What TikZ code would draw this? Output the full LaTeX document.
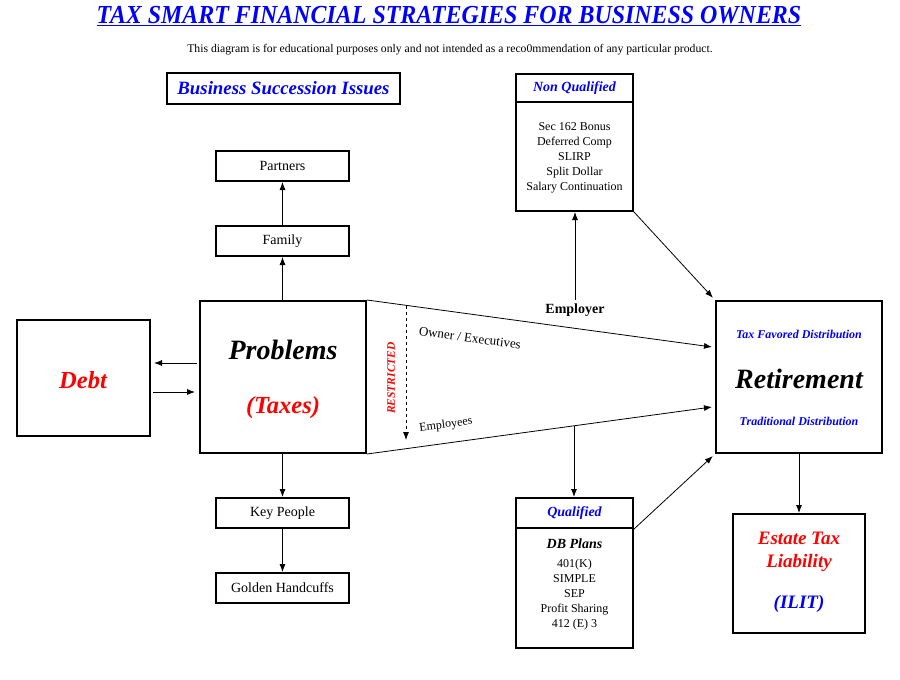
\documentclass[tikz,border=0pt]{standalone}
\usepackage{fontspec}
\setmainfont{Liberation Serif}
\usetikzlibrary{calc}
\usetikzlibrary{arrows.meta}

\newcommand{\fsz}[2]{\fontsize{#1}{#2}\selectfont}

\begin{document}
\begin{tikzpicture}[x=1pt,y=-1pt,
    box/.style={draw,line width=2pt,inner sep=0pt},
    arr/.style={-{Latex[length=8pt,width=6pt]},line width=0.8pt},
    bi/.style={font=\bfseries\itshape}]
                \useasboundingbox[fill=white] (0,0) rectangle (900,680);
                % heading
                \node[blue,font=\bfseries\itshape\fsz{26}{28}] (title) at (449,16) {\scalebox{0.92}[1]{\underline{TAX SMART FINANCIAL STRATEGIES FOR BUSINESS OWNERS}}};
                \node[font=\fsz{11.7}{13}] (note) at (450,50) {This diagram is for educational purposes only and not intended as a reco0mmendation of any particular product.};

                % left column
                \node[box,minimum width=233pt,minimum height=31pt,text=blue,font=\bfseries\itshape\fsz{18.8}{20}] (bsi) at (283.5,88.5) {Business Succession Issues};
                \node[box,minimum width=133pt,minimum height=30pt,font=\fsz{14}{16}] (partners) at (282.5,166) {Partners};
                \node[box,minimum width=133pt,minimum height=30pt,font=\fsz{14}{16}] (family) at (282.5,241) {Family};
                \node[box,minimum width=166pt,minimum height=152pt] (prob) at (283,377) {};
                \node[font=\bfseries\itshape\fsz{28}{30}] (probt) at (283,350) {Problems};
                \node[red,font=\bfseries\itshape\fsz{24.5}{26}] (taxes) at (283,408) {(Taxes)};
                \node[box,minimum width=133pt,minimum height=116pt] (debt) at (83.5,378) {};
                \node[red,font=\bfseries\itshape\fsz{24.5}{26}] (debtt) at (83,380) {Debt};
                \node[box,minimum width=133pt,minimum height=30pt,font=\fsz{14}{16}] (keyp) at (282.5,513) {Key People};
                \node[box,minimum width=133pt,minimum height=30pt,font=\fsz{14}{16}] (golden) at (282.5,588) {Golden Handcuffs};

                \draw[arr] (family.north) -- (partners.south);
                \draw[arr] (prob.north -| family) -- (family.south);
                \draw[arr] (prob.south -| keyp) -- (keyp.north);
                \draw[arr] (keyp.south) -- (golden.north);
                \draw[arr,shorten <=2pt,shorten >=3pt] ([yshift=14pt]prob.west) -- ([yshift=14pt]prob.west -| debt.east);
                \draw[arr,shorten <=2pt,shorten >=4pt] ([yshift=-15pt]prob.west -| debt.east) -- ([yshift=-15pt]prob.west);

                % plans
                \node[box,minimum width=117pt,minimum height=28pt,text=blue,font=\bfseries\itshape\fsz{14}{16}] (nqh) at (574.5,88) {Non Qualified};
                \node[box,minimum width=117pt,minimum height=109pt] (nqb) at (574.5,156.5) {};
                \node[align=center,font=\fsz{12}{15}] (nql) at (574.5,158) {Sec 162 Bonus\\Deferred Comp\\SLIRP\\Split Dollar\\Salary Continuation};
                \node[box,minimum width=117pt,minimum height=30pt,text=blue,font=\bfseries\itshape\fsz{14}{16}] (qh) at (574.5,513) {Qualified};
                \node[box,minimum width=117pt,minimum height=120pt] (qb) at (574.5,588) {};
                \node[font=\bfseries\itshape\fsz{14}{16}] (db) at (574.5,544) {DB Plans};
                \node[align=center,font=\fsz{12}{15}] (ql) at (574.5,595) {401(K)\\SIMPLE\\SEP\\Profit Sharing\\412 (E) 3};

                % retirement
                \node[box,minimum width=166pt,minimum height=152pt] (ret) at (799,377) {};
                \node[blue,font=\bfseries\itshape\fsz{12}{13}] (tfd) at (799,334) {Tax Favored Distribution};
                \node[font=\bfseries\itshape\fsz{28}{30}] (rett) at (799,379) {Retirement};
                \node[blue,font=\bfseries\itshape\fsz{12}{13}] (trd) at (799,421) {Traditional Distribution};
                \node[box,minimum width=132pt,minimum height=119pt] (est) at (799,573.5) {};
                \node[red,align=center,font=\bfseries\itshape\fsz{19}{23}] (estt) at (799,552) {Estate Tax\\Liability};
                \node[blue,font=\bfseries\itshape\fsz{19}{20}] (ilit) at (799,604) {(ILIT)};

                % funnel
                \coordinate (rt) at (712,347);
                \coordinate (rb) at (712,407);
                \draw[arr] (prob.north east) -- (rt);
                \draw[arr] (prob.south east) -- (rb);
                \path (prob.south east) -- (rb) coordinate[pos=0.6] (qsplit);
                \node[rotate=-7.6,font=\fsz{13}{15}] (owner) at (470,338) {Owner / Executives};
                \node[rotate=7.6,font=\fsz{12}{14}] (emps) at (446,425) {Employees};
                \coordinate (rs) at (406,306);
                \coordinate (re) at (406,440);
                \draw[arr,dashed] (rs) -- (re);
                \node[rotate=90,red,font=\bfseries\itshape\fsz{11.5}{13}] (restr) at (391,378) {RESTRICTED};
                \node[font=\bfseries\fsz{14}{16}] (emp) at (575,310) {Employer};

                \draw[arr] (emp.north) -- (emp.north |- nqb.south);
                \draw[arr] (qsplit) -- (qsplit |- qh.north);
                \draw[arr,shorten >=3pt] (nqb.south east) -- (ret.north west);
                \draw[arr,shorten >=3pt] (qh.south east) -- (ret.south west);
                \draw[arr] (ret.south) -- (est.north);
            \end{tikzpicture}
\end{document}
